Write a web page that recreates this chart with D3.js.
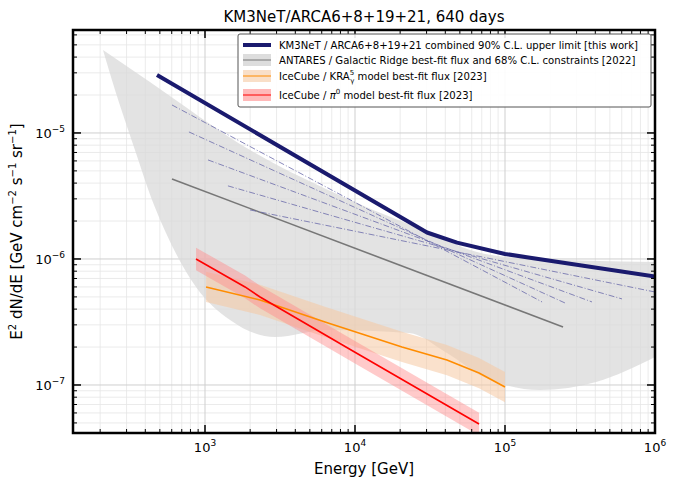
<!DOCTYPE html>
<html><head><meta charset="utf-8">
<script src="https://cdn.jsdelivr.net/npm/d3@7"></script>
<style>body{margin:0;background:#fff}svg{font-family:"DejaVu Sans",sans-serif}</style>
</head><body><svg id="c" width="677" height="486"></svg>
<script>
// values stored as [log10(E/GeV), log10(E^2 dN/dE)]
const km3net = [[2.68,-4.54],[4.48,-5.79],[4.68,-5.87],[5.0,-5.96],[5.5,-6.05],[6.0,-6.14]];
const km3netIndices = [
  [[2.78,-4.778],[5.247,-6.341]],
  [[2.893,-4.992],[5.4,-6.349]],
  [[3.02,-5.214],[5.58,-6.341]],
  [[3.153,-5.42],[5.78,-6.317]],
  [[3.3,-5.611],[6.0,-6.262]]
];
const antaresLine = [[2.78,-5.365],[5.387,-6.54]];
const antaresUpper = [[2.32,-4.341],[2.633,-4.595],[3.3,-5.135],[3.967,-5.532],[4.567,-5.825],[4.767,-5.929],[5.1,-5.992],[6.0,-6.024]];
const antaresLower = [[2.32,-4.341],[2.4,-4.659],[2.533,-5.135],[2.647,-5.532],[2.74,-5.794],[2.94,-6.222],[3.167,-6.484],[3.467,-6.619],[3.813,-6.563],[4.36,-6.587],[4.613,-6.746],[4.86,-6.937],[5.233,-7.04],[5.607,-6.976],[6.0,-6.778]];
const kraLine = [[3.007,-6.222],[3.367,-6.325],[3.8,-6.5],[4.313,-6.698],[4.613,-6.802],[4.827,-6.905],[5.0,-7.016]];
const kraWidth = 0.12;
const pi0Line = [[2.94,-6.0],[3.267,-6.222],[3.367,-6.302],[4.0,-6.74],[4.827,-7.31]];
const pi0Width = 0.09;
const xTicks = [3,4,5,6];
const yTicks = [-7,-6,-5];
const legendLabels = [
  "KM3NeT / ARCA6+8+19+21 combined 90% C.L. upper limit [this work]",
  "ANTARES / Galactic Ridge best-fit flux and 68% C.L. constraints [2022]",
  "IceCube / KRA",
  "IceCube / "
];

const svg = d3.select("#c");
const L=73,R=655,T=30,B=433;
const x = d3.scaleLinear().domain([2.12,6]).range([L,R]);
const y = d3.scaleLinear().domain([-4.183,-7.381]).range([T,B]);
const line = d3.line().x(d=>x(d[0])).y(d=>y(d[1]));
const smooth = d3.line().curve(d3.curveMonotoneX).x(d=>x(d[0])).y(d=>y(d[1]));
svg.append("defs").append("clipPath").attr("id","cl").append("rect").attr("x",L).attr("y",T).attr("width",R-L).attr("height",B-T);
const pg = svg.append("g").attr("clip-path","url(#cl)");

const minorX=[],minorY=[];
for(let d=2;d<6;d++)for(let k=2;k<10;k++){const v=d+Math.log10(k);if(v>2.12)minorX.push(v);}
for(let d=-8;d<-4;d++)for(let k=2;k<10;k++){const v=d+Math.log10(k);if(v>-7.381&&v<-4.183)minorY.push(v);}
pg.selectAll(".mx").data(minorX).enter().append("line").attr("x1",x).attr("x2",x).attr("y1",T).attr("y2",B).attr("stroke","#e6e6e6").attr("stroke-width",0.8);
pg.selectAll(".my").data(minorY).enter().append("line").attr("y1",y).attr("y2",y).attr("x1",L).attr("x2",R).attr("stroke","#e6e6e6").attr("stroke-width",0.8);
pg.selectAll(".Mx").data(xTicks).enter().append("line").attr("x1",x).attr("x2",x).attr("y1",T).attr("y2",B).attr("stroke","#cfcfcf").attr("stroke-width",1);
pg.selectAll(".My").data(yTicks).enter().append("line").attr("y1",y).attr("y2",y).attr("x1",L).attr("x2",R).attr("stroke","#cfcfcf").attr("stroke-width",1);

// band: upper edge L->R, then lower edge R->L (drawn smoothly L->R then reversed via separate path join)
const lowerPath = smooth(antaresLower); // M..., from left to right
pg.append("path").attr("d",smooth(antaresUpper)+"L"+x(6.0)+","+y(-6.778)+"Z").attr("fill","none");
pg.append("path").attr("d",lowerPath+"L"+smooth(antaresUpper.slice().reverse().map(d=>d)).slice(1)+"Z").attr("fill","#d9d9d9").attr("opacity",0.75);
pg.append("path").attr("d",line(antaresLine)).attr("stroke","#777").attr("stroke-width",1.6).attr("fill","none");

function bandPath(arr,w){const up=arr.map(d=>[d[0],d[1]+w]),lo=arr.map(d=>[d[0],d[1]-w]).reverse();return line(up.concat(lo))+"Z";}
pg.append("path").attr("d",bandPath(kraLine,kraWidth)).attr("fill","#f5c9a3").attr("opacity",0.55);
pg.append("path").attr("d",bandPath(pi0Line,pi0Width)).attr("fill","#ff8a8a").attr("opacity",0.45);
pg.append("path").attr("d",line(kraLine)).attr("stroke","#ff8c00").attr("stroke-width",1.6).attr("fill","none");
pg.append("path").attr("d",line(pi0Line)).attr("stroke","#ff0000").attr("stroke-width",1.6).attr("fill","none");

km3netIndices.forEach(s=>pg.append("path").attr("d",line(s)).attr("stroke","#6a6aaa").attr("stroke-width",0.8).attr("stroke-dasharray","6,2,1,2").attr("fill","none"));
pg.append("path").attr("d",line(km3net)).attr("stroke","#1a1a6e").attr("stroke-width",4).attr("fill","none").attr("stroke-linejoin","round");

const ax=svg.append("g");
function tk(x1,y1,x2,y2,w){ax.append("line").attr("x1",x1).attr("y1",y1).attr("x2",x2).attr("y2",y2).attr("stroke","#000").attr("stroke-width",w||1);}
minorX.forEach(v=>{tk(x(v),B,x(v),B-4);tk(x(v),T,x(v),T+4);});
xTicks.forEach(v=>{tk(x(v),B,x(v),B-8,1.5);tk(x(v),T,x(v),T+8,1.5);});
minorY.forEach(v=>{tk(L,y(v),L+4,y(v));tk(R,y(v),R-4,y(v));});
yTicks.forEach(v=>{tk(L,y(v),L+8,y(v),1.5);tk(R,y(v),R-8,y(v),1.5);});
svg.append("rect").attr("x",L).attr("y",T).attr("width",R-L).attr("height",B-T).attr("fill","none").attr("stroke","#000").attr("stroke-width",2.5);

xTicks.forEach(v=>{const t=svg.append("text").attr("x",x(v)).attr("y",452).attr("text-anchor","middle").attr("font-size",13);
  t.append("tspan").text("10");t.append("tspan").attr("dy",-6).attr("font-size",9).text(v);});
yTicks.forEach(v=>{const t=svg.append("text").attr("x",L-8).attr("y",y(v)+5).attr("text-anchor","end").attr("font-size",13);
  t.append("tspan").text("10");t.append("tspan").attr("dy",-6).attr("font-size",9).text("\u2212"+(-v));});
svg.append("text").attr("x",(L+R)/2).attr("y",474).attr("text-anchor","middle").attr("font-size",15).text("Energy [GeV]");
svg.append("text").attr("x",(L+R)/2).attr("y",22).attr("text-anchor","middle").attr("font-size",15).text("KM3NeT/ARCA6+8+19+21, 640 days");
const yl=svg.append("text").attr("transform",`translate(22,${(T+B)/2}) rotate(-90)`).attr("text-anchor","middle").attr("font-size",15);
yl.append("tspan").text("E");yl.append("tspan").attr("dy",-6).attr("font-size",10).text("2");
yl.append("tspan").attr("dy",6).text(" dN/dE [GeV cm");yl.append("tspan").attr("dy",-6).attr("font-size",10).text("\u22122");
yl.append("tspan").attr("dy",6).text(" s");yl.append("tspan").attr("dy",-6).attr("font-size",10).text("\u22121");
yl.append("tspan").attr("dy",6).text(" sr");yl.append("tspan").attr("dy",-6).attr("font-size",10).text("\u22121");
yl.append("tspan").attr("dy",6).text("]");

const lg=svg.append("g");
lg.append("rect").attr("x",238).attr("y",34).attr("width",413).attr("height",73).attr("fill","#fff").attr("fill-opacity",0.9).attr("stroke","#555").attr("stroke-width",1).attr("rx",2);
const rows=[45,60,76,95];
rows.forEach((ry,i)=>{
  const hx=243,hw=28;
  if(i===0) lg.append("line").attr("x1",hx).attr("x2",hx+hw).attr("y1",ry).attr("y2",ry).attr("stroke","#1a1a6e").attr("stroke-width",4);
  else{
    const fc=["","#d9d9d9","#f5c9a3","#ff8a8a"][i], lc=["","#777","#ff8c00","#ff0000"][i];
    lg.append("rect").attr("x",hx).attr("y",ry-6).attr("width",hw).attr("height",12).attr("fill",fc).attr("opacity",i===1?0.9:0.6);
    lg.append("line").attr("x1",hx).attr("x2",hx+hw).attr("y1",ry).attr("y2",ry).attr("stroke",lc).attr("stroke-width",1);
  }
  const t=lg.append("text").attr("x",279).attr("y",ry+4).attr("font-size",10.1).text(legendLabels[i]);
  if(i===2){t.append("tspan").attr("dy",-5).attr("font-size",7).text("5");
    t.append("tspan").attr("dx",-4).attr("dy",8).attr("font-size",7).text("\u03b3");
    t.append("tspan").attr("dy",-3).text(" model best-fit flux [2023]");}
  if(i===3){t.append("tspan").attr("font-style","italic").text("\u03c0");
    t.append("tspan").attr("dy",-5).attr("font-size",7).text("0");
    t.append("tspan").attr("dy",5).text(" model best-fit flux [2023]");}
});
</script></body></html>
